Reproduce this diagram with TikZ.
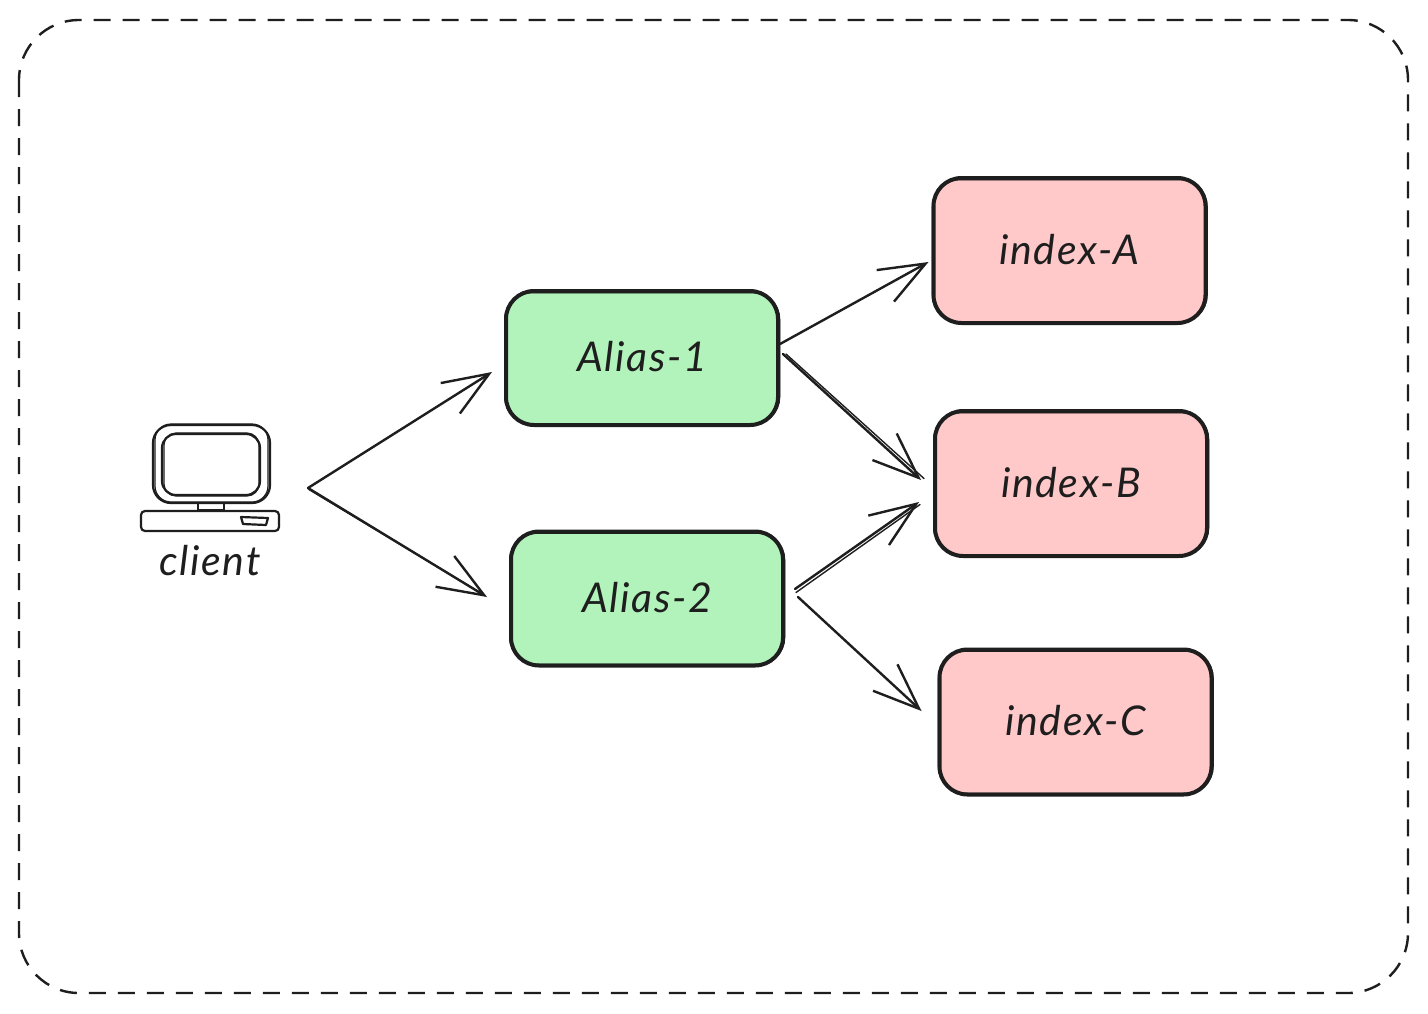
\documentclass[tikz,border=0pt]{standalone}
\usepackage{fontspec}
\setmainfont{Lato}[ItalicFont=* Italic,LetterSpace=4]
\usetikzlibrary{arrows.meta}
\definecolor{ink}{HTML}{1E1E1E}
\definecolor{gbox}{HTML}{B2F2BB}
\definecolor{rbox}{HTML}{FFC9C9}
\tikzset{
  x=1pt,y=-1pt,
  labelfont/.style={font=\fontsize{41}{45}\selectfont\itshape,text=ink},
  sketchbox/.style={draw=ink,line width=4pt,rounded corners=28pt,minimum width=272pt,inner sep=0pt,outer sep=0pt,labelfont},
  greenbox/.style={sketchbox,fill=gbox,minimum height=134pt},
  redbox/.style={sketchbox,fill=rbox,minimum height=145pt},
  boxecho/.style={draw=ink,line width=1.6pt,rounded corners=27pt},
  link/.style={draw=ink,line width=2.4pt,line cap=round,-{Straight Barb[length=46pt,width=36pt,line width=2.4pt]}},
  linkb/.style={draw=ink,line width=1.4pt,line cap=round},
  frame/.style={draw=ink,line width=2.4pt,dash pattern=on 17pt off 12pt,rounded corners=60pt},
  pc/.style={draw=ink,line width=2.2pt,line join=round},
}
\newcommand{\boxtext}[1]{\raisebox{3pt}{#1}}
\begin{document}
\begin{tikzpicture}
\useasboundingbox (0,0) rectangle (1428,1013);
\fill[white] (0,0) rectangle (1428,1013);
\draw[frame] (19,20) rectangle (1408,993);

% client computer
\node[minimum width=138pt,minimum height=107pt,inner sep=0pt,outer sep=0pt] (client) at (210,477.5) {};
\draw[pc,rounded corners=18pt] (153,425) rectangle (270,503);
\draw[pc,line width=1.2pt,rounded corners=16pt] (155,424) rectangle (268,502);
\draw[pc,rounded corners=14pt] (162,434) rectangle (260,495);
\draw[pc,line width=1.2pt,rounded corners=12pt] (164,433) rectangle (259,496);
\draw[pc] (198,504) -- (198,510) -- (224,510) -- (224,504);
\draw[pc,rounded corners=4pt] (141,511) rectangle (279,531);
\draw[pc] (241,517) -- (268,518) -- (266,525) -- (243,524) -- cycle;
\node[labelfont] (clientlabel) at (210,561) {client};

% boxes
\node[greenbox] (alias1) at (642,358) {\boxtext{Alias-1}};
\node[greenbox] (alias2) at (647,598.5) {\boxtext{Alias-2}};
\node[redbox] (indexA) at (1069.5,250.5) {\boxtext{index-A}};
\node[redbox] (indexB) at (1071,483.5) {\boxtext{index-B}};
\node[redbox] (indexC) at (1075.5,722) {\boxtext{index-C}};
\foreach \b in {alias1,alias2,indexA,indexB,indexC}
  \draw[boxecho] ([shift={(-1,1.5)}]\b.north west) rectangle ([shift={(1.5,-1)}]\b.south east);

% connectors
\draw[link] ([shift={(29,10.5)}]client.east) -- ([shift={(-14,14)}]alias1.west);
\draw[link] ([shift={(29,10.5)}]client.east) -- ([shift={(-24,-1.5)}]alias2.west);
\draw[linkb] ([shift={(30,12)}]client.east) -- ([shift={(-26,-3)}]alias2.west);
\draw[link] ([shift={(2,-14)}]alias1.east) -- ([shift={(-5,11.5)}]indexA.west);
\draw[link] ([shift={(5,-4)}]alias1.east) -- ([shift={(-14,-3.5)}]indexB.west);
\draw[linkb] ([shift={(8,-4)}]alias1.east) -- ([shift={(-11,-5)}]indexB.west);
\draw[link] ([shift={(12,-9.5)}]alias2.east) -- ([shift={(-16,18.5)}]indexB.west);
\draw[linkb] ([shift={(13,-6)}]alias2.east) -- ([shift={(-15,21)}]indexB.west);
\draw[link] ([shift={(15,-1.5)}]alias2.east) -- ([shift={(-18,-11)}]indexC.west);
\end{tikzpicture}
\end{document}
